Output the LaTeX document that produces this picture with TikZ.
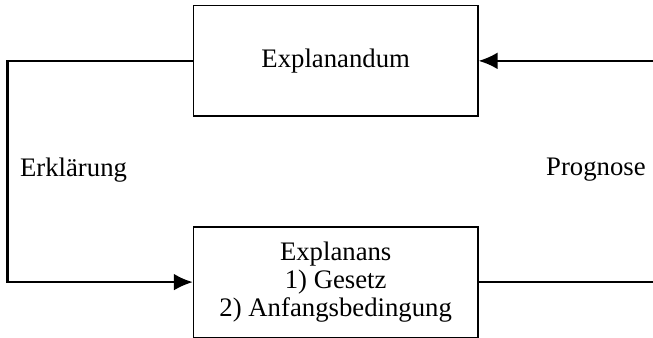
\documentclass[tikz,border=0pt]{standalone}
\usepackage{fontspec}
\setmainfont{Liberation Serif}
\usetikzlibrary{arrows.meta}

\begin{document}
\begin{tikzpicture}[
    font=\fontsize{12}{12.6}\selectfont,
    kasten/.style={draw, line width=0.5pt, minimum width=4.49cm, minimum height=1.74cm, align=center},
    pfeil/.style={line width=1pt, -{Latex[length=8.5pt,width=7.5pt]}}
  ]
            \clip (0,0) rectangle (10.3,5.32);
            \node[kasten] (explanandum) at (5.295,4.36) {Explanandum};
            \node[kasten] (explanans) at (5.295,0.87) {Explanans\\1) Gesetz\\2) Anfangsbedingung};
            \coordinate (links) at (0.12,0);
            \coordinate (rechts) at (10.8,0);
            \draw[pfeil] (explanandum.west) -- (links |- explanandum.west) -- (links |- explanans.west) -- (explanans.west);
            \draw[pfeil] (explanans.east) -- (rechts |- explanans.east) -- (rechts |- explanandum.east) -- (explanandum.east);
            \node (erklaerung) at (1.16,2.64) {Erklärung};
            \node (prognose) at (9.40,2.64) {Prognose};
        \end{tikzpicture}
\end{document}
